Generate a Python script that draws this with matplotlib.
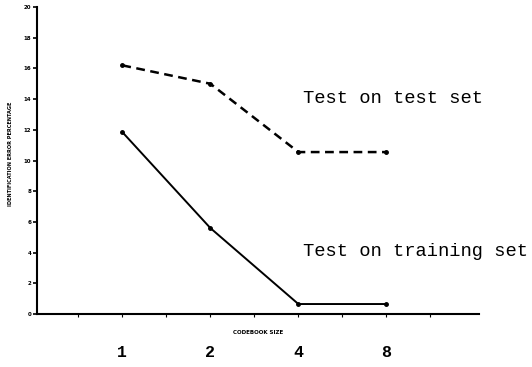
import matplotlib
matplotlib.use("Agg")
import matplotlib.pyplot as plt

# codebook sizes (categorical) and identification error (%)
codebook_sizes = ["1", "2", "4", "8"]
test_on_test = [16.2, 15.0, 10.55, 10.55]
test_on_training = [11.85, 5.6, 0.65, 0.65]
y_ticks = [0, 2, 4, 6, 8, 10, 12, 14, 16, 18, 20]

mono = "Liberation Mono"

fig = plt.figure(figsize=(5.32, 3.67), dpi=100)
ax = fig.add_axes([0.0695, 0.1444, 0.8305, 0.8365])

pos = list(range(len(codebook_sizes)))
ax.plot(pos, test_on_test, color="black", lw=1.8, ls=(0, (3.5, 2.2)),
        marker="o", ms=2.5)
ax.plot(pos, test_on_training, color="black", lw=1.4,
        marker="o", ms=2.5)

ax.set_xlim(-0.97, 4.05)
ax.set_ylim(0, 20)

for s in ["top", "right"]:
    ax.spines[s].set_visible(False)
for s in ["left", "bottom"]:
    ax.spines[s].set_linewidth(1.5)

ax.set_yticks(y_ticks)
ax.set_yticklabels([str(v) for v in y_ticks], fontsize=4, fontweight="bold")
ax.tick_params(axis="y", length=3, width=1.2, pad=1)

# halfway ticks on the x axis, category labels well below
ax.set_xticks(pos)
ax.set_xticklabels(codebook_sizes, fontsize=12, fontweight="bold",
                   family=mono)
ax.set_xticks([-1 + 0.5 * i for i in range(11) if i % 2 == 1], minor=True)
ax.tick_params(axis="x", which="both", length=2, width=0.8, pad=20)

fig.text(0.485, 0.093, "CODEBOOK SIZE", fontsize=4, fontweight="bold",
         ha="center", va="center")
fig.text(0.02, 0.58, "IDENTIFICATION ERROR PERCENTAGE", fontsize=3.6,
         fontweight="bold", rotation=90, ha="center", va="center")

ax.text(2.05, 14.05, "Test on test set", family=mono, fontsize=13.5,
        ha="left", va="center")
ax.text(2.05, 4.05, "Test on training set", family=mono, fontsize=13.5,
        ha="left", va="center", clip_on=False)

fig.savefig("out.png", dpi=100)
